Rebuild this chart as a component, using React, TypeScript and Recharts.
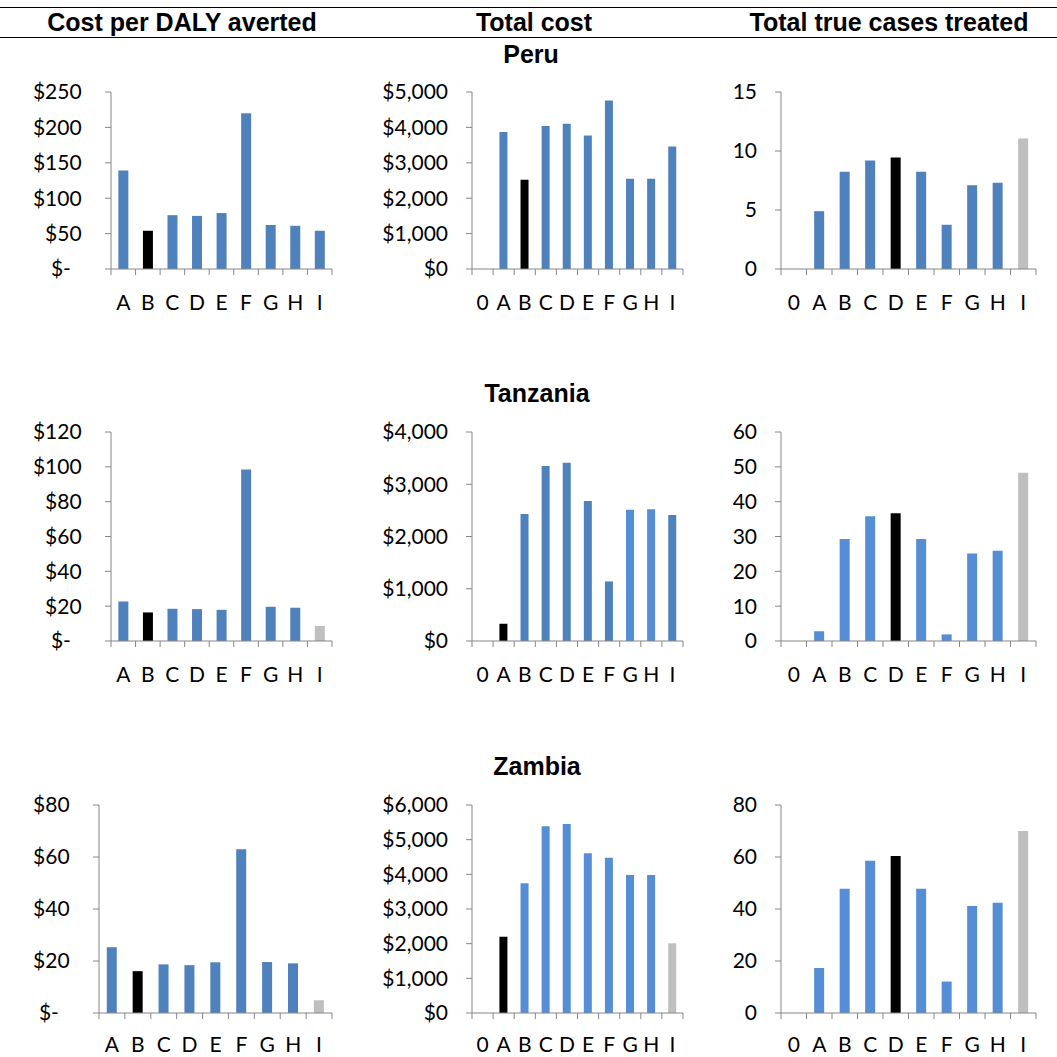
import React from 'react'
import { BarChart, Bar, XAxis, YAxis, Cell } from 'recharts'

// categories
const strategies = ['A', 'B', 'C', 'D', 'E', 'F', 'G', 'H', 'I']
const withZero = ['0', 'A', 'B', 'C', 'D', 'E', 'F', 'G', 'H', 'I']

// Peru
const peruDaly = [139, 54, 76, 75, 79, 220, 62, 61, 54]
const peruCost = [null, 3870, 2520, 4040, 4100, 3770, 4760, 2550, 2550, 3460]
const peruCases = [null, 4.9, 8.25, 9.2, 9.45, 8.25, 3.75, 7.1, 7.3, 11.05]

// Tanzania
const tanzDaly = [22.7, 16.4, 18.5, 18.3, 17.9, 98.5, 19.7, 19.1, 8.7]
const tanzCost = [null, 330, 2430, 3350, 3410, 2680, 1140, 2510, 2520, 2410]
const tanzCases = [null, 2.8, 29.3, 35.8, 36.7, 29.3, 1.9, 25.1, 25.9, 48.3]

// Zambia
const zambDaly = [25.3, 16.1, 18.7, 18.4, 19.5, 63.0, 19.6, 19.1, 4.9]
const zambCost = [null, 2200, 3740, 5390, 5450, 4610, 4480, 3980, 3980, 2010]
const zambCases = [null, 17.3, 47.8, 58.6, 60.4, 47.8, 12.1, 41.2, 42.4, 70.0]

// y ticks
const dalyTicks250 = [0, 50, 100, 150, 200, 250]
const dalyTicks120 = [0, 20, 40, 60, 80, 100, 120]
const dalyTicks80 = [0, 20, 40, 60, 80]
const costTicks5k = [0, 1000, 2000, 3000, 4000, 5000]
const costTicks4k = [0, 1000, 2000, 3000, 4000]
const costTicks6k = [0, 1000, 2000, 3000, 4000, 5000, 6000]
const caseTicks15 = [0, 5, 10, 15]
const caseTicks60 = [0, 10, 20, 30, 40, 50, 60]
const caseTicks80 = [0, 20, 40, 60, 80]

const headers = ['Cost per DALY averted', 'Total cost', 'Total true cases treated']
const countries = ['Peru', 'Tanzania', 'Zambia']

const BLUE = '#4F81BD'
const BLUE2 = '#558ED5'
const BLACK = '#000000'
const GREY = '#BFBFBF'
const AXIS = '#868686'
const TICK_FONT = 'Lato, "Open Sans", sans-serif'

const fmtDaly = (v: number) => (v === 0 ? '$-\u00A0\u00A0\u00A0' : '$' + v + '\u00A0')
const fmtCost = (v: number) => '$' + v.toLocaleString('en-US')
const fmtCases = (v: number) => String(v)

// plot-area geometry per row / column
const rows = [
  { top: 92, bottom: 269, title: 54, label: 32 },
  { top: 432, bottom: 641, title: 393, label: 32 },
  { top: 805, bottom: 1013, title: 766, label: 30 },
]
const cols = [
  { axis: 111, end: 332 },
  { axis: 472, end: 683 },
  { axis: 781, end: 1036 },
]

type Panel = {
  row: number
  col: number
  cats: string[]
  values: (number | null)[]
  ticks: number[]
  fmt: (v: number) => string
  base: string
  black: string[]
  grey: string[]
  light?: string[]
  axisX?: number
}

const panels: Panel[] = [
  { row: 0, col: 0, cats: strategies, values: peruDaly, ticks: dalyTicks250, fmt: fmtDaly, base: BLUE, black: ['B'], grey: [] },
  { row: 0, col: 1, cats: withZero, values: peruCost, ticks: costTicks5k, fmt: fmtCost, base: BLUE, black: ['B'], grey: [] },
  { row: 0, col: 2, cats: withZero, values: peruCases, ticks: caseTicks15, fmt: fmtCases, base: BLUE, black: ['D'], grey: ['I'] },
  { row: 1, col: 0, cats: strategies, values: tanzDaly, ticks: dalyTicks120, fmt: fmtDaly, base: BLUE, black: ['B'], grey: ['I'] },
  { row: 1, col: 1, cats: withZero, values: tanzCost, ticks: costTicks4k, fmt: fmtCost, base: BLUE, black: ['A'], grey: [], light: ['G', 'H'] },
  { row: 1, col: 2, cats: withZero, values: tanzCases, ticks: caseTicks60, fmt: fmtCases, base: BLUE2, black: ['D'], grey: ['I'] },
  { row: 2, col: 0, cats: strategies, values: zambDaly, ticks: dalyTicks80, fmt: fmtDaly, base: BLUE, black: ['B'], grey: ['I'], axisX: 99 },
  { row: 2, col: 1, cats: withZero, values: zambCost, ticks: costTicks6k, fmt: fmtCost, base: BLUE2, black: ['A'], grey: ['I'] },
  { row: 2, col: 2, cats: withZero, values: zambCases, ticks: caseTicks80, fmt: fmtCases, base: BLUE2, black: ['D'], grey: ['I'] },
]

const YW = 100
const TOP = 15
const XH = 50
const RIGHT = 5

function makeTick(n: number, band: number, labelOffset: number) {
  return (props: any) => {
    const { x, y, payload, index } = props
    const half = band / 2
    return (
      <g>
        <line x1={x - half} x2={x - half} y1={y} y2={y + 6} stroke={AXIS} />
        {index === n - 1 && <line x1={x + half} x2={x + half} y1={y} y2={y + 6} stroke={AXIS} />}
        <text
          x={x}
          y={y + labelOffset}
          textAnchor="middle"
          dominantBaseline="central"
          fontFamily={TICK_FONT}
          fontSize={21}
          fill="#000"
        >
          {payload.value}
        </text>
      </g>
    )
  }
}

function PanelChart({ p }: { p: Panel }) {
  const r = rows[p.row]
  const c = cols[p.col]
  const axisX = p.axisX ?? c.axis
  const plotW = c.end - axisX
  const plotH = r.bottom - r.top
  const data = p.cats.map((cat, i) => ({ cat, value: p.values[i] }))
  const band = plotW / p.cats.length
  const colorOf = (cat: string) =>
    p.black.includes(cat) ? BLACK : p.grey.includes(cat) ? GREY : p.light?.includes(cat) ? BLUE2 : p.base

  return (
    <div style={{ position: 'absolute', left: axisX - YW, top: r.top - TOP }}>
      <BarChart
        width={YW + plotW + RIGHT}
        height={TOP + plotH + XH}
        data={data}
        margin={{ top: TOP, right: RIGHT, bottom: 0, left: 0 }}
        barCategoryGap="30%"
      >
        <XAxis
          dataKey="cat"
          height={XH}
          interval={0}
          axisLine={{ stroke: AXIS }}
          tickLine={false}
          tickSize={0}
          tickMargin={0}
          tick={makeTick(p.cats.length, band, r.label)}
        />
        <YAxis
          width={YW}
          domain={[0, p.ticks[p.ticks.length - 1]]}
          ticks={p.ticks}
          interval={0}
          tickFormatter={p.fmt}
          axisLine={{ stroke: AXIS }}
          tickLine={{ stroke: AXIS }}
          tickSize={6}
          tickMargin={18}
          tick={{ fontFamily: TICK_FONT, fontSize: 21, fill: '#000' }}
        />
        <Bar dataKey="value" isAnimationActive={false}>
          {data.map((d) => (
            <Cell key={d.cat} fill={colorOf(d.cat)} />
          ))}
        </Bar>
      </BarChart>
    </div>
  )
}

const headerX = [182, 534, 889]
const countryX = [531, 537, 537]

export default function App() {
  const bold: React.CSSProperties = {
    position: 'absolute',
    transform: 'translate(-50%, -50%)',
    fontFamily: '"Liberation Sans", Arial, sans-serif',
    fontWeight: 'bold',
    fontSize: 25,
    whiteSpace: 'nowrap',
    color: '#000',
  }
  return (
    <div style={{ position: 'absolute', left: 0, top: 0, width: 1057, height: 1057, background: '#fff', overflow: 'hidden' }}>
      <div style={{ position: 'absolute', left: 0, top: 7, width: 1057, height: 1, background: '#000' }} />
      <div style={{ position: 'absolute', left: 0, top: 37, width: 1057, height: 1, background: '#000' }} />
      {headers.map((h, i) => (
        <div key={h} style={{ ...bold, left: headerX[i], top: 22 }}>
          {h}
        </div>
      ))}
      {countries.map((name, i) => (
        <div key={name} style={{ ...bold, left: countryX[i], top: rows[i].title }}>
          {name}
        </div>
      ))}
      {panels.map((p) => (
        <PanelChart key={p.row + '-' + p.col} p={p} />
      ))}
    </div>
  )
}
